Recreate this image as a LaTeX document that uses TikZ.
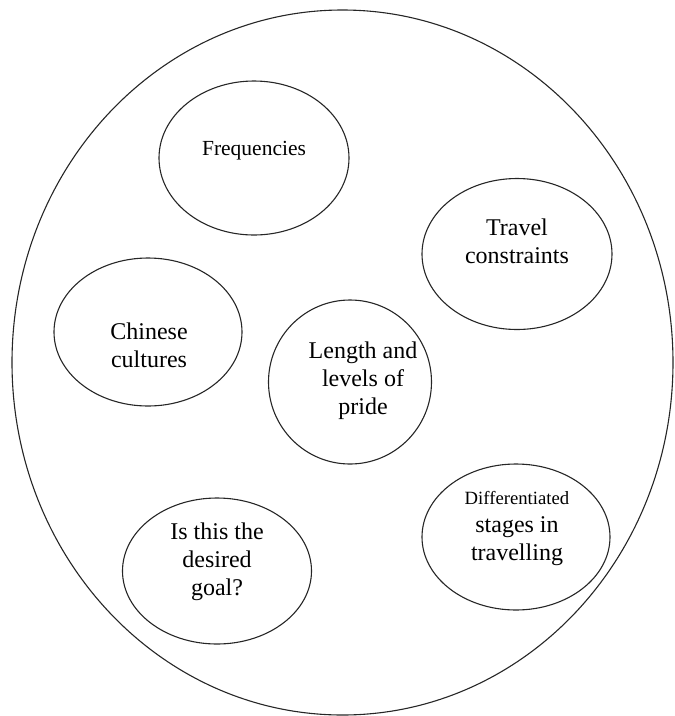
\documentclass[tikz,border=0pt]{standalone}
\usepackage{fontspec}
\setmainfont{Liberation Serif}
\usetikzlibrary{shapes.geometric}
\tikzset{
  bubble/.style={draw=black!85, line width=1.1pt, ellipse, inner sep=0pt},
  caption/.style={align=center, font=\fontsize{24}{28}\selectfont, inner sep=0pt},
}
\begin{document}
\begin{tikzpicture}[x=1pt, y=-1pt]
  \useasboundingbox (0,0) rectangle (675,716);
  % enclosing ellipse
  \node[bubble, minimum width=661pt, minimum height=705pt] (outer) at (342.5,362.5) {};
  % inner topics
  \node[bubble, minimum width=190pt, minimum height=154pt] (freq)  at (254,158) {};
  \node[bubble, minimum width=190pt, minimum height=151pt] (trav)  at (517,254) {};
  \node[bubble, minimum width=188pt, minimum height=148pt] (chin)  at (148,332) {};
  \node[bubble, minimum width=163pt, minimum height=164pt] (len)   at (350,382) {};
  \node[bubble, minimum width=188pt, minimum height=146pt] (diff)  at (516,537) {};
  \node[bubble, minimum width=189pt, minimum height=146pt] (goal)  at (217,571) {};
  % labels
  \node[caption, font=\fontsize{21.5}{26}\selectfont] (tfreq) at (254,151) {Frequencies};
  \node[caption] (ttrav) at (517,241) {Travel\\constraints};
  \node[caption] (tchin) at (149,345) {Chinese\\cultures};
  \node[caption] (tlen)  at (363,381) {Length and\\levels of\\pride};
  \node[caption] (tdiff) at (517,528) {{\fontsize{18.7}{28}\selectfont Differentiated}\\stages in\\travelling};
  \node[caption] (tgoal) at (217,562) {Is this the\\desired\\goal?};
\end{tikzpicture}
\end{document}
